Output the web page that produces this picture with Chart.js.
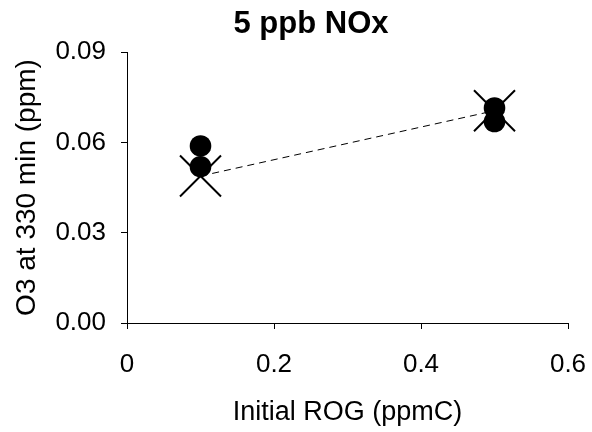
<!DOCTYPE html>
<html>
<head>
<meta charset="utf-8">
<script src="https://cdn.jsdelivr.net/npm/chart.js@4/dist/chart.umd.min.js"></script>
<style>
    html, body { margin: 0; padding: 0; background: #fff; }
    #wrap { width: 592px; height: 432px; }
</style>
</head>
<body>
<div id="wrap"><canvas id="chart" width="592" height="432"></canvas></div>
<script>
// measured runs: initial ROG (ppmC) vs O3 at 330 min (ppm)
const measuredRog = [0.1, 0.1, 0.5, 0.5];
const measuredO3 = [0.0588, 0.0519, 0.0714, 0.0669];

// model results, joined by the dashed line
const modelRog = [0.1, 0.5];
const modelO3 = [0.0488, 0.0705];

const xTicks = [0, 0.2, 0.4, 0.6];
const yTicks = [0.00, 0.03, 0.06, 0.09];

const chartTitle = '5 ppb NOx';

Chart.defaults.font.family = '"Liberation Sans", Arial, sans-serif';
Chart.defaults.color = '#000';

function toPoints(xs, ys) {
    return xs.map(function (x, i) {
        return { x: x, y: ys[i] };
    });
}

const axisLine = {
    display: true,
    color: '#000',
    width: 1
};

// the title in the original sits a bit right of the canvas centre
const offsetTitle = {
    id: 'offsetTitle',
    afterDraw: function (chart) {
        const ctx = chart.ctx;
        ctx.save();
        ctx.font = 'bold 31px "Liberation Sans", Arial, sans-serif';
        ctx.fillStyle = '#000';
        ctx.textAlign = 'center';
        ctx.textBaseline = 'middle';
        ctx.fillText(chartTitle, 311, 24);
        ctx.restore();
    }
};

new Chart(document.getElementById('chart'), {
    type: 'scatter',
    data: {
        datasets: [
            {
                label: 'Measured',
                data: toPoints(measuredRog, measuredO3),
                order: 0,
                pointStyle: 'circle',
                pointRadius: 10.8,
                backgroundColor: '#000',
                borderColor: '#000',
                pointBorderWidth: 0
            },
            {
                label: 'Model',
                data: toPoints(modelRog, modelO3),
                order: 1,
                showLine: true,
                borderColor: '#000',
                borderWidth: 1,
                borderDash: [7, 5],
                pointStyle: 'crossRot',
                pointRadius: 29,
                pointBorderWidth: 2,
                pointBorderColor: '#000',
                backgroundColor: '#000'
            }
        ]
    },
    plugins: [offsetTitle],
    options: {
        responsive: false,
        animation: false,
        layout: {
            autoPadding: false,
            padding: { left: 0, right: 24, top: 52, bottom: 0 }
        },
        plugins: {
            legend: { display: false },
            tooltip: { enabled: false },
            title: { display: false }
        },
        scales: {
            x: {
                type: 'linear',
                min: xTicks[0],
                max: xTicks[xTicks.length - 1],
                afterBuildTicks: function (scale) {
                    scale.ticks = xTicks.map(function (v) { return { value: v }; });
                },
                afterFit: function (scale) {
                    scale.height = 109;
                    scale.paddingLeft = 0;
                    scale.paddingRight = 0;
                },
                border: axisLine,
                grid: {
                    drawOnChartArea: false,
                    drawTicks: true,
                    tickLength: 6,
                    color: '#000'
                },
                ticks: {
                    font: { size: 26 },
                    padding: 20,
                    maxRotation: 0,
                    callback: function (value) {
                        return value === 0 ? '0' : value.toFixed(1);
                    }
                },
                title: {
                    display: true,
                    text: 'Initial ROG (ppmC)',
                    font: { size: 27 },
                    padding: { top: 10, bottom: 3 }
                }
            },
            y: {
                type: 'linear',
                min: yTicks[0],
                max: yTicks[yTicks.length - 1],
                afterBuildTicks: function (scale) {
                    scale.ticks = yTicks.map(function (v) { return { value: v }; });
                },
                afterFit: function (scale) {
                    scale.width = 127;
                    scale.paddingTop = 0;
                    scale.paddingBottom = 0;
                },
                border: axisLine,
                grid: {
                    drawOnChartArea: false,
                    drawTicks: true,
                    tickLength: 6,
                    color: '#000'
                },
                ticks: {
                    font: { size: 26 },
                    padding: 15,
                    callback: function (value) {
                        return value.toFixed(2);
                    }
                },
                title: {
                    display: true,
                    text: 'O3 at 330 min (ppm)',
                    font: { size: 28 },
                    padding: { top: 10, bottom: 0 }
                }
            }
        }
    }
});
</script>
</body>
</html>
